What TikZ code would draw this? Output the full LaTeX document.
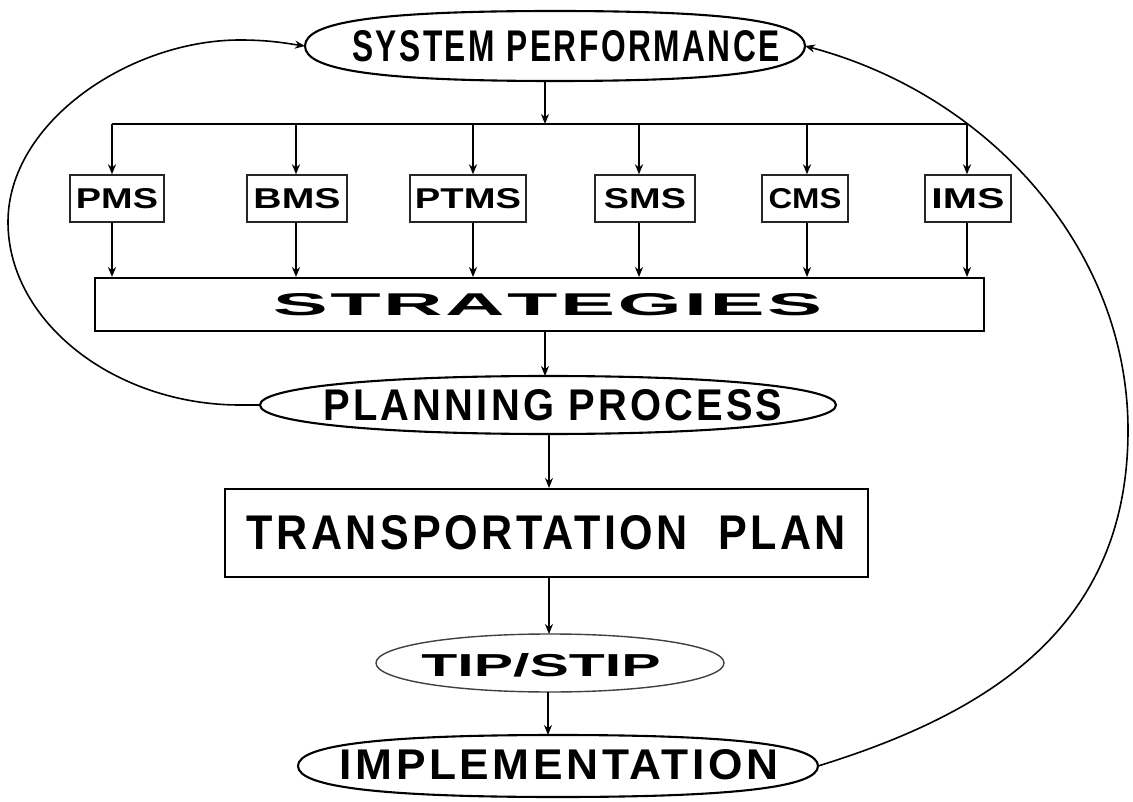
\documentclass[tikz,border=0pt]{standalone}
\usepackage{fontspec}
\setmainfont{Liberation Sans}
\usepackage{graphicx}
\usetikzlibrary{shapes.geometric,arrows.meta,calc}
\newcommand{\fitt}[3]{\resizebox{#1pt}{#2pt}{\bfseries #3}}
\newcommand{\fitc}[3]{\resizebox{#1pt}{#2pt}{\bfseries\addfontfeature{LetterSpace=8}#3}}
% rounded (super-)ellipse outline round a named node: #1 style, #2 node, #3 control factor
\newcommand{\blob}[3][]{%
  \draw[#1] (#2.east) .. controls ($(#2.east)!#3!(#2.north east)$) and ($(#2.north)!#3!(#2.north east)$) .. (#2.north)
    .. controls ($(#2.north)!#3!(#2.north west)$) and ($(#2.west)!#3!(#2.north west)$) .. (#2.west)
    .. controls ($(#2.west)!#3!(#2.south west)$) and ($(#2.south)!#3!(#2.south west)$) .. (#2.south)
    .. controls ($(#2.south)!#3!(#2.south east)$) and ($(#2.east)!#3!(#2.south east)$) .. cycle;}
\begin{document}
\begin{tikzpicture}[x=1pt,y=-1pt,
  ellbox/.style={rectangle, inner sep=0pt, outer sep=0pt},
  outline/.style={line width=2.1pt},
  box/.style={draw, rectangle, line width=2pt, inner sep=0pt},
  sbox/.style={draw=black!85, rectangle, line width=1.4pt, inner sep=0pt, minimum height=47pt},
  txt/.style={inner sep=0pt, outer sep=0pt},
  arr/.style={-{Stealth[length=10pt,width=8pt]}, line width=1.7pt},
  loop/.style={-{Stealth[length=10pt,width=8pt]}, line width=1.6pt},
  conn/.style={line width=1.7pt}]
\useasboundingbox[fill=white] (0,0) rectangle (1133,802);

% main nodes
\node[ellbox, minimum width=500pt, minimum height=70pt] (sp) at (555,46) {};
\blob[outline]{sp}{0.70}
\node[txt] (spt) at (566,46.5) {\fitc{428}{31}{SYSTEM PERFORMANCE}};

\node[sbox, minimum width=94pt]  (pms)  at (117,198.5) {\fitt{82}{20}{PMS}};
\node[sbox, minimum width=100pt] (bms)  at (297,198.5) {\fitt{87}{20}{BMS}};
\node[sbox, minimum width=116pt] (ptms) at (468,198.5) {\fitt{106}{20}{PTMS}};
\node[sbox, minimum width=100pt] (sms)  at (645,198.5) {\fitt{82}{20}{SMS}};
\node[sbox, minimum width=86pt]  (cms)  at (805,198.5) {\fitt{73}{20}{CMS}};
\node[sbox, minimum width=86pt]  (ims)  at (968,198.5) {\fitt{73}{20}{IMS}};

\node[box, minimum width=889pt, minimum height=53pt] (str) at (539.5,304.5) {};
\node[txt] (strt) at (547.5,305) {\fitt{549}{22}{S\kern.03em T\kern.03em R\kern.03em A\kern.03em T\kern.03em E\kern.03em G\kern.03em I\kern.03em E\kern.03em S}};

\node[ellbox, minimum width=576pt, minimum height=58pt] (pp) at (548,405) {};
\blob[outline]{pp}{0.60}
\node[txt] (ppt) at (553,405.5) {\fitc{459}{31}{PLANNING PROCESS}};

\node[box, minimum width=643pt, minimum height=88pt] (tp) at (546.5,533) {\fitc{599}{34}{TRANSPORTATION\ \ PLAN}};

\node[ellbox, minimum width=348pt, minimum height=58pt] (tip) at (550,663) {};
\blob[line width=1.4pt, draw=black!75]{tip}{0.57}
\node[txt] (tipt) at (541,665) {\fitt{239}{23}{TIP/STIP}};

\node[ellbox, minimum width=520pt, minimum height=62pt] (impl) at (558,766) {};
\blob[outline]{impl}{0.68}
\node[txt] (implt) at (559,765) {\fitc{438}{30}{IMPLEMENTATION}};

% distribution bar
\coordinate (b1) at (112,124);
\coordinate (b2) at (296,124);
\coordinate (b3) at (473,124);
\coordinate (b4) at (639,124);
\coordinate (b5) at (807,124);
\coordinate (b6) at (967,124);
\coordinate (bj) at (545,124);
\draw[conn] (b1) -- (b6);
\draw[arr] (bj |- sp.south) -- (bj);
\foreach \b/\n in {b1/pms,b2/bms,b3/ptms,b4/sms,b5/cms,b6/ims}{
  \draw[arr] (\b) -- (\b |- \n.north);
  \draw[arr] (\b |- \n.south) -- (\b |- str.north);
}

% vertical chain
\coordinate (c1) at (545,0);
\coordinate (c2) at (549,0);
\coordinate (c3) at (548,0);
\draw[arr] (c1 |- str.south) -- (c1 |- pp.north);
\draw[arr] (c2 |- pp.south) -- (c2 |- tp.north);
\draw[arr] (c2 |- tp.south) -- (c2 |- tip.north);
\draw[arr] (c3 |- tip.south) -- (c3 |- impl.north);

% feedback loops
\draw[loop] (pp.west) -- (240,405) .. controls (115,405) and (8,322) .. (8,222)
  .. controls (8,122) and (130,40) .. (240,40) .. controls (272,40) and (290,44) .. (sp.west);
\draw[loop] (impl.east) .. controls (1000,710) and (1128,620) .. (1128,430)
  .. controls (1128,250) and (990,95) .. (sp.east);
\end{tikzpicture}
\end{document}
